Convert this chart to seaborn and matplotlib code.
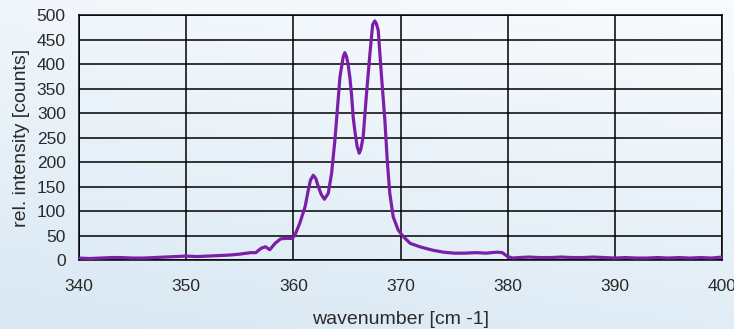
import numpy as np
import pandas as pd
import matplotlib
matplotlib.use("Agg")
import matplotlib.pyplot as plt
import seaborn as sns

wavenumber = [340, 341, 342, 343, 344, 345, 346, 347, 348, 349, 350, 351, 352, 353,
              354, 355, 356, 356.5, 357, 357.4, 357.8, 358.3, 358.8, 359.2, 359.9,
              360.15, 360.6, 361.1, 361.4, 361.6, 361.86, 362.1, 362.33, 362.6, 362.9,
              363.26, 363.57, 363.88, 364.13, 364.35, 364.66, 364.8, 364.95, 365.1,
              365.28, 365.44, 365.59, 365.75, 365.95, 366.15, 366.3, 366.52, 366.83,
              367.15, 367.4, 367.6, 367.75, 367.92, 368.23, 368.54, 368.76, 369.0,
              369.32, 369.79, 370.26, 370.9, 371.8, 373, 374, 375, 376, 377, 378, 379,
              379.5, 380, 380.5, 381, 382, 383, 384, 385, 386, 387, 388, 389, 390, 391,
              392, 393, 394, 395, 396, 397, 398, 399, 400]
intensity = [4, 3, 4, 5, 5, 4, 4, 5, 6, 7, 8, 7, 8, 9, 10, 12, 15, 15, 24, 27, 21, 34,
             43, 44, 44, 51, 75, 109, 143, 163, 173, 166, 150, 134, 124, 136, 177, 245,
             313, 374, 415, 423, 416, 401, 372, 335, 290, 262, 232, 218, 226, 252, 340,
             422, 480, 488, 482, 469, 374, 286, 204, 136, 88, 61, 48, 34, 27, 20, 16,
             14, 14, 15, 14, 16, 15, 7, 4, 5, 6, 5, 5, 6, 5, 5, 6, 5, 4, 5, 4, 4, 5, 4,
             5, 4, 5, 4, 6]

x_ticks = [340, 350, 360, 370, 380, 390, 400]
y_ticks = [0, 50, 100, 150, 200, 250, 300, 350, 400, 450, 500]

df = pd.DataFrame({"wavenumber": wavenumber, "intensity": intensity})

sns.set_style("white")
plt.rcParams["font.family"] = ["Liberation Sans", "DejaVu Sans"]

fig = plt.figure(figsize=(7.34, 3.29), dpi=100)

# background gradient
bg = fig.add_axes([0, 0, 1, 1], zorder=-10)
grad_y = np.linspace(0, 1, 200)[:, None]
grad_x = np.linspace(0, 1, 200)[None, :]
t = np.clip(0.75 * grad_y + 0.25 * (1 - grad_x), 0, 1)
top = np.array([0.975, 0.985, 0.995])
bot = np.array([0.85, 0.91, 0.955])
img = top[None, None, :] * (1 - t[..., None]) + bot[None, None, :] * t[..., None]
bg.imshow(img, aspect="auto", extent=[0, 1, 0, 1], origin="upper")
bg.axis("off")

ax = fig.add_axes([0.1076, 0.2097, 0.9837 - 0.1076, 0.9544 - 0.2097])
ax.patch.set_alpha(0)

sns.lineplot(data=df, x="wavenumber", y="intensity", ax=ax, color="#7b1fa8",
             linewidth=2.3, zorder=5)

ax.set_xlim(340, 400)
ax.set_ylim(0, 500)
ax.set_xticks(x_ticks)
ax.set_yticks(y_ticks)
ax.grid(True, color="black", linewidth=1.1)
for s in ax.spines.values():
    s.set_color("black")
    s.set_linewidth(1.1)
ax.tick_params(axis="both", direction="out", length=5.5, width=1.1, color="black",
               labelsize=12.5, labelcolor="#2a2a2a")
ax.tick_params(axis="x", pad=8.5)
ax.tick_params(axis="y", pad=4)
ax.set_xlabel("wavenumber [cm -1]", fontsize=14, color="#2a2a2a", labelpad=12)
ax.set_ylabel("rel. intensity [counts]", fontsize=14, color="#2a2a2a", labelpad=5)

fig.savefig("out.png", dpi=100)
